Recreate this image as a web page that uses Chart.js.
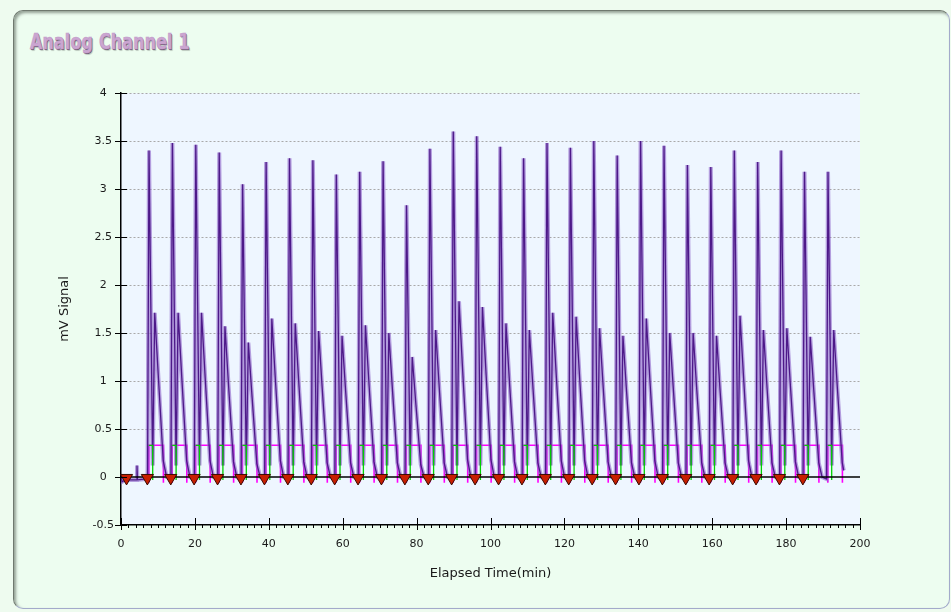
<!DOCTYPE html>
<html>
<head>
<meta charset="utf-8">
<style>
html,body{margin:0;padding:0;width:951px;height:612px;overflow:hidden;background:#eefbef;}
#panel{position:absolute;left:13px;top:10px;width:937px;height:599px;box-sizing:border-box;border-radius:10px;background:#edfdf0;border:1px solid;border-color:#6f796f #a3aacb #a3aacb #6f796f;box-shadow:inset 2px 2px 3px rgba(60,70,60,.5);}
#title{position:absolute;left:30px;top:30.7px;font:bold 22px/22px "DejaVu Sans";color:#cba6d1;transform:scaleX(.72);transform-origin:0 0;white-space:nowrap;-webkit-text-stroke:0.7px #c29bc9;text-shadow:1px 1px 0 #6c5872,2px 2px 1px rgba(0,0,0,.2);letter-spacing:0.3px;}
canvas{position:absolute;left:0;top:0;}
</style>
<script src="https://cdn.jsdelivr.net/npm/chart.js@4.4.1/dist/chart.umd.min.js"></script>
</head>
<body>
<div id="panel"></div>
<div id="title">Analog Channel 1</div>
<canvas id="c" width="951" height="612"></canvas>
<script>
// ---- data ----
const xTicksMajor = [0, 20, 40, 60, 80, 100, 120, 140, 160, 180, 200];
const yTicks = [-0.5, 0, 0.5, 1, 1.5, 2, 2.5, 3, 3.5, 4];

// apex time (min) of each main peak
const peakTimes = [7.58,13.91,20.24,26.58,32.91,39.27,45.60,51.93,58.27,64.60,70.93,77.27,83.60,89.93,96.27,102.63,108.96,115.29,121.62,127.96,134.29,140.62,146.96,153.29,159.62,165.98,172.31,178.65,184.98,191.34];
// apex height (mV) of each main peak
const peakHeights = [3.40,3.48,3.46,3.38,3.05,3.28,3.32,3.30,3.15,3.18,3.29,2.83,3.42,3.60,3.55,3.44,3.32,3.48,3.43,3.50,3.35,3.50,3.45,3.25,3.23,3.40,3.28,3.40,3.18,3.18];
// height of the second (shoulder) peak
const shoulderHeights = [1.71,1.71,1.71,1.57,1.40,1.65,1.60,1.52,1.47,1.58,1.50,1.25,1.53,1.83,1.77,1.60,1.53,1.71,1.67,1.55,1.47,1.65,1.50,1.50,1.47,1.68,1.53,1.55,1.46,1.53];
// signal on the tailing side, about 1 min and 2.3 min after the shoulder
const decayMid = [1.03,1.03,1.03,0.94,0.84,0.99,0.96,0.91,0.88,0.95,0.90,0.75,0.92,1.10,1.06,0.96,0.92,1.03,1.00,0.93,0.88,0.99,0.90,0.90,0.88,1.01,0.92,0.93,0.88,0.92];
const decayTail = [0.17,0.17,0.17,0.16,0.14,0.17,0.16,0.15,0.15,0.16,0.15,0.13,0.15,0.18,0.18,0.16,0.15,0.17,0.17,0.16,0.15,0.17,0.15,0.15,0.15,0.17,0.15,0.16,0.15,0.15];
// time offsets (min) of the trace vertices relative to each apex
const riseAt = -0.40, dipAt = 1.0, shoulderAt = 1.55, midAt = 2.55, tailAt = 3.85, endAt = 4.75;
const dipValue = 0.12;
// trace before the first injection and the last sample
const leadIn = [[0,0.01],[0.3,-0.05],[1.2,-0.03],[4.2,-0.03],[4.33,0.12],[4.45,-0.03],[6.9,-0.02]];
const lastSample = [195.6, 0.07];

// baseline (valley) markers
const markerTimes = [1.5,7.13,13.46,19.79,26.13,32.46,38.82,45.15,51.48,57.82,64.15,70.48,76.82,83.15,89.48,95.82,102.18,108.51,114.84,121.17,127.51,133.84,140.17,146.51,152.84,159.17,165.53,171.86,178.20,184.53];

// integration event windows
const windowLevel = 0.33;
const windowLength = 3.9;   // magenta window after the apex
const splitLength = 1.0;    // green window (first peak) after the apex

// ---- build tables for Chart.js ----
const trace = leadIn.map(([x, y]) => ({x, y}));
peakTimes.forEach((t, i) => {
  trace.push({x: t + riseAt, y: -0.02});
  trace.push({x: t, y: peakHeights[i]});
  trace.push({x: t + dipAt, y: dipValue});
  trace.push({x: t + shoulderAt, y: shoulderHeights[i]});
  trace.push({x: t + midAt, y: decayMid[i]});
  trace.push({x: t + tailAt, y: decayTail[i]});
  if (i < peakTimes.length - 1) trace.push({x: t + endAt, y: 0});
});
trace.push({x: lastSample[0], y: lastSample[1]});

const magenta = [], green = [];
peakTimes.forEach((t) => {
  const s = t - 0.05;
  magenta.push({x: s, y: -0.06}, {x: s, y: windowLevel}, {x: t + windowLength, y: windowLevel}, {x: t + windowLength, y: -0.06}, {x: t + windowLength + 0.01, y: null});
  green.push({x: s, y: windowLevel}, {x: t + splitLength, y: windowLevel}, {x: t + splitLength, y: -0.03}, {x: t + splitLength + 0.01, y: null});
});
const markers = markerTimes.map(t => ({x: t, y: -0.01}));

// ---- plugins ----
const plotBg = {
  id: 'plotBg',
  beforeDraw(chart) {
    const {ctx, chartArea: a} = chart;
    ctx.save();
    ctx.fillStyle = '#eef6ff';
    ctx.fillRect(a.left, a.top, a.right - a.left, a.bottom - a.top);
    ctx.restore();
  }
};
const tickMarks = {
  id: 'tickMarks',
  afterDatasetsDraw(chart) {
    const {ctx, chartArea: a, scales: {x, y}} = chart;
    ctx.save();
    ctx.strokeStyle = '#000';
    ctx.lineWidth = 1;
    ctx.beginPath();
    y.ticks.forEach(tk => {
      const py = Math.round(y.getPixelForValue(tk.value)) + 0.5;
      ctx.moveTo(a.left - 6, py); ctx.lineTo(a.left + 6, py);
    });
    x.ticks.forEach(tk => {
      const px = Math.round(x.getPixelForValue(tk.value)) + 0.5;
      ctx.moveTo(px, a.bottom - 7); ctx.lineTo(px, a.bottom + 5);
    });
    for (let v = x.min; v <= x.max; v += 2) {
      const px = Math.round(x.getPixelForValue(v)) + 0.5;
      ctx.moveTo(px, a.bottom); ctx.lineTo(px, a.bottom + 3);
    }
    ctx.stroke();
    ctx.restore();
  }
};

Chart.defaults.font.family = '"DejaVu Sans", sans-serif';
Chart.defaults.font.size = 11;
Chart.defaults.color = '#1a1a1a';

new Chart(document.getElementById('c'), {
  type: 'line',
  data: {
    datasets: [
      {label: 'markers', data: markers, showLine: false, pointStyle: 'triangle', rotation: 180, pointRadius: 7, pointBackgroundColor: '#c81e00', pointBorderColor: '#3a0a00', pointBorderWidth: 1, order: 0, clip: false},
      {label: 'zero', data: [{x: 0, y: 0}, {x: 200, y: 0}], borderColor: '#000', borderWidth: 1.5, pointRadius: 0, order: 1},
      {label: 'split', data: green, borderColor: '#00d000', borderWidth: 1.3, pointRadius: 0, spanGaps: false, order: 2},
      {label: 'signal', data: trace, borderColor: 'rgba(72,18,132,0.95)', borderWidth: 1.3, pointRadius: 0, tension: 0, order: 3},
      {label: 'signal halo', data: trace, borderColor: 'rgba(140,98,200,0.6)', borderWidth: 4, pointRadius: 0, tension: 0, order: 4},
      {label: 'window', data: magenta, borderColor: '#ff00ff', borderWidth: 1.6, pointRadius: 0, spanGaps: false, order: 5}
    ]
  },
  options: {
    responsive: false,
    animation: false,
    devicePixelRatio: 1,
    layout: {padding: {left: 57, right: 91, top: 93, bottom: 31}},
    plugins: {legend: {display: false}, tooltip: {enabled: false}},
    scales: {
      x: {
        type: 'linear', min: 0, max: 200,
        afterBuildTicks: s => { s.ticks = xTicksMajor.map(v => ({value: v})); },
        afterFit: s => { s.height = 56; },
        ticks: {padding: 7, maxRotation: 0, autoSkip: false, callback: v => String(v)},
        grid: {drawOnChartArea: false, tickLength: 6, tickColor: 'rgba(0,0,0,0)'},
        border: {color: '#000', width: 1.5},
        title: {display: true, text: 'Elapsed Time(min)', font: {size: 13}, padding: 0, color: '#1a1a1a'}
      },
      y: {
        type: 'linear', min: -0.5, max: 4,
        afterBuildTicks: s => { s.ticks = yTicks.map(v => ({value: v})); },
        afterFit: s => { s.width = 64; },
        ticks: {padding: 1, crossAlign: 'center', callback: v => String(v)},
        grid: {
          tickLength: 6, tickColor: 'rgba(0,0,0,0)',
          color: c => (c.tick && (c.tick.value === 0 || c.tick.value === -0.5)) ? 'rgba(0,0,0,0)' : '#a9a9a9'
        },
        border: {color: '#000', width: 1.5, dash: [2, 2]},
        title: {display: true, text: 'mV Signal', font: {size: 13}, padding: 0, color: '#1a1a1a'}
      }
    }
  },
  plugins: [plotBg, tickMarks]
});
</script>
</body>
</html>
